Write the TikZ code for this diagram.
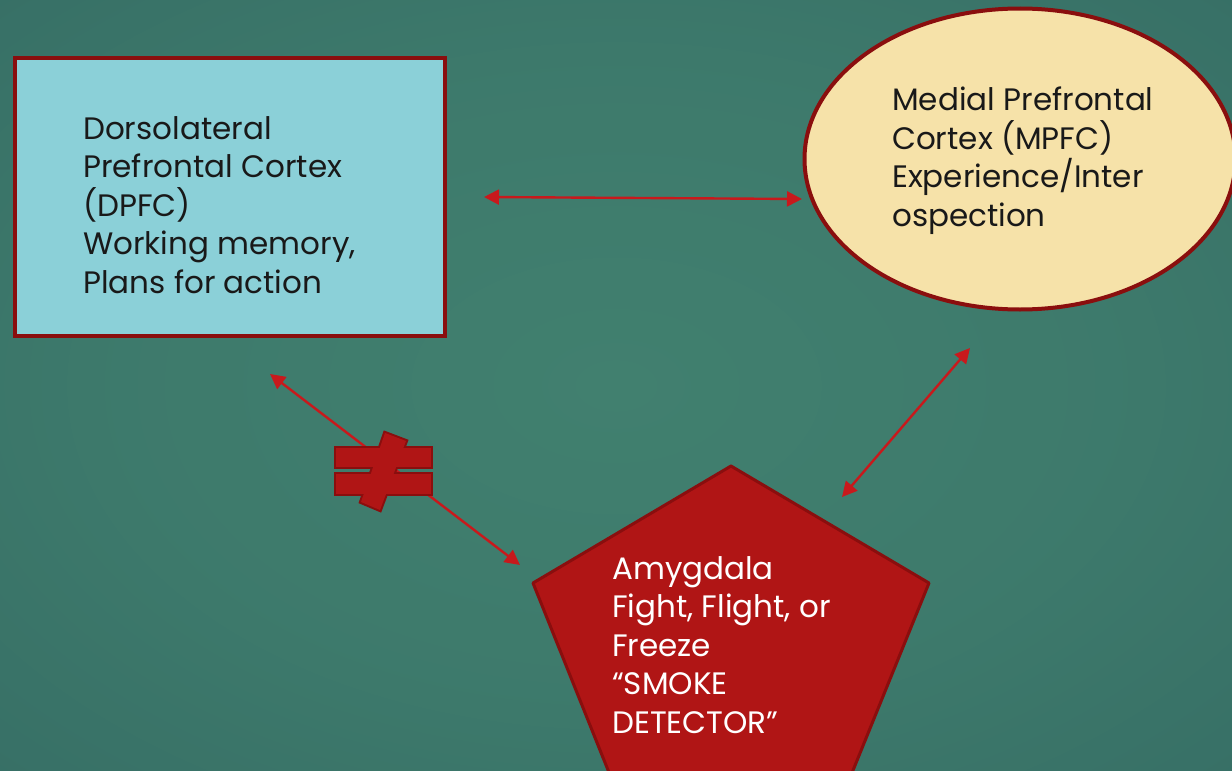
\documentclass[tikz,border=0pt]{standalone}
\usepackage{fontspec}
\setmainfont{Poppins}
\usetikzlibrary{shapes.geometric,arrows.meta}
\definecolor{bgin}{HTML}{41806F}
\definecolor{bgout}{HTML}{295859}
\definecolor{dkred}{HTML}{8A0E0E}
\definecolor{boxfill}{HTML}{8BD0D8}
\definecolor{ellfill}{HTML}{F6E2A9}
\definecolor{pentfill}{HTML}{B01515}
\definecolor{arrred}{HTML}{C8191C}
\pgfdeclareradialshading{bgshade}{\pgfpoint{0bp}{0bp}}{color(0bp)=(bgin); color(20bp)=(bgin!85!bgout); color(72bp)=(bgout)}
\tikzset{
  lbl/.style={anchor=north west, align=left, inner sep=0pt, font=\fontsize{31}{38.5}\selectfont},
  link/.style={draw=arrred, line width=2.4pt, {Triangle[length=15pt,width=15pt]}-{Triangle[length=15pt,width=15pt]}},
  shapeborder/.style={draw=dkred, line width=3.5pt},
  neqline/.style={draw=dkred, line width=4pt, line join=miter},
  neqfill/.style={fill=pentfill}
}
\begin{document}
\begin{tikzpicture}[x=1pt,y=-1pt]
\useasboundingbox (0,0) rectangle (1232,771);
\shade[shading=bgshade] (0,0) rectangle (1232,771);

% shapes
\node[shapeborder, fill=boxfill, minimum width=430, minimum height=278, inner sep=0pt] (dpfc) at (230,197) {};
\node[shapeborder, line width=4pt, fill=ellfill, ellipse, minimum width=431, minimum height=301, inner sep=0pt] (mpfc) at (1020,159) {};
\coordinate (p1) at (731,466);
\coordinate (p2) at (929,583);
\coordinate (p3) at (841,800);
\coordinate (p4) at (620,800);
\coordinate (p5) at (533,583);
\draw[shapeborder, line width=3pt, fill=pentfill, line join=round] (p1) -- (p2) -- (p3) -- (p4) -- (p5) -- cycle;

% texts
\node[lbl, text=black!90] (dpfct) at (83,116) {Dorsolateral\\Prefrontal Cortex\\(DPFC)\\Working memory,\\Plans for action};
\node[lbl, text=black!90] (mpfct) at (892,87) {Medial Prefrontal\\Cortex (MPFC)\\Experience/Inter\\ospection};
\node[lbl, text=white] (amyt) at (612,556) {Amygdala\\Fight, Flight, or\\Freeze\\“SMOKE\\DETECTOR”};

% connectors
\coordinate (a1) at (484,197);
\coordinate (a2) at (802,199);
\coordinate (b1) at (970,348);
\coordinate (b2) at (842,497);
\coordinate (c1) at (270,374);
\coordinate (c2) at (520,565);
\draw[link] (a1) -- (a2);
\draw[link] (b1) -- (b2);
\draw[link] (c1) -- (c2);

% not-equal sign (outline first, then fills so the parts merge)
\draw[neqline] (336,448) rectangle (431,467);
\draw[neqline] (336,474) rectangle (431,494);
\draw[neqline] (385,433) -- (406,441) -- (380,510) -- (361,502) -- cycle;
\fill[neqfill] (336,448) rectangle (431,467);
\fill[neqfill] (336,474) rectangle (431,494);
\fill[neqfill] (385,433) -- (406,441) -- (380,510) -- (361,502) -- cycle;
\end{tikzpicture}
\end{document}
